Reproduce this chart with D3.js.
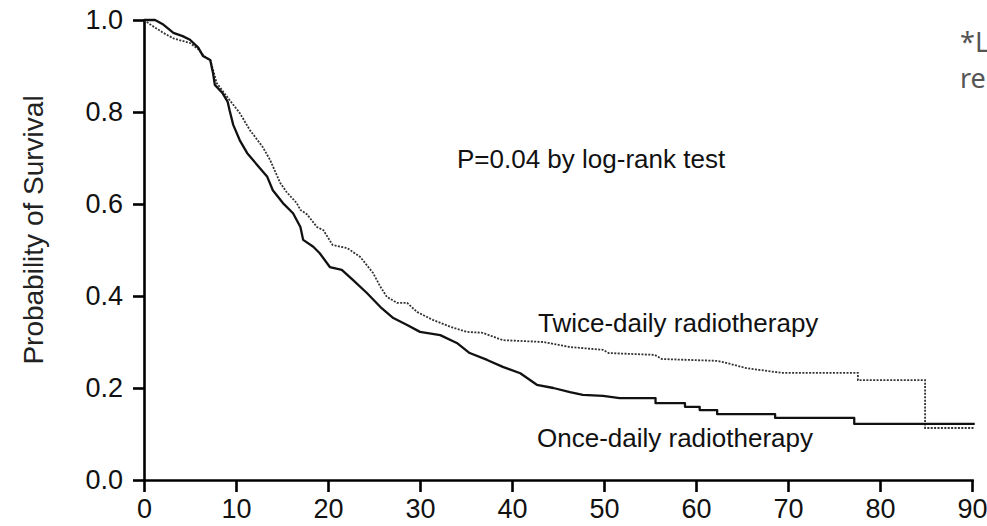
<!DOCTYPE html>
<html>
<head>
<meta charset="utf-8">
<script src="https://cdn.jsdelivr.net/npm/d3@7"></script>
<style>
  body { margin: 0; background: #fff; overflow: hidden; }
  svg { display: block; }
  .axis path, .axis line { stroke: #000; stroke-width: 2.6; }
  .axis text { font-family: "Liberation Sans", Arial, sans-serif; font-size: 27px; fill: #111; }
</style>
</head>
<body>
<div id="chart"></div>
<script>
// Kaplan-Meier survival
// months since randomisation and probability of survival
const onceDaily = [
  [0, 1.0], [1.2, 1.0], [2.1, 0.99], [3.2, 0.972], [4.2, 0.965], [5.0, 0.957],
  [5.9, 0.94], [6.4, 0.922], [7.2, 0.913], [7.5, 0.885], [7.7, 0.859], [8.5, 0.842],
  [9.1, 0.822], [9.3, 0.804], [9.7, 0.772], [10.4, 0.739], [11.2, 0.711], [12.3, 0.685],
  [13.4, 0.659], [14.0, 0.63], [15.1, 0.602], [16.2, 0.58], [17.0, 0.55], [17.3, 0.522],
  [18.4, 0.507], [19.1, 0.493], [20.2, 0.463], [21.5, 0.457], [22.7, 0.435], [24.2, 0.407],
  [25.7, 0.376], [27.1, 0.352], [28.6, 0.337], [30.0, 0.322], [32.2, 0.315], [34.0, 0.298],
  [35.4, 0.276], [37.3, 0.261], [39.0, 0.246], [40.9, 0.232], [42.7, 0.207], [44.5, 0.2],
  [46.3, 0.191], [47.7, 0.185], [49.9, 0.183], [51.7, 0.178],
  [55.6, 0.178], [55.6, 0.167], [58.8, 0.167], [58.8, 0.159], [60.4, 0.159], [60.4, 0.152],
  [62.3, 0.152], [62.3, 0.143], [68.6, 0.143], [68.6, 0.135], [77.2, 0.135], [77.2, 0.122],
  [90.3, 0.122]
];

const twiceDaily = [
  [0, 1.0], [0.7, 0.99], [2.1, 0.972], [3.2, 0.96], [5.0, 0.95], [6.0, 0.935],
  [6.5, 0.922], [7.2, 0.913], [7.6, 0.885], [7.9, 0.863], [9.3, 0.826], [10.4, 0.798],
  [11.5, 0.761], [12.9, 0.724], [13.7, 0.696], [14.8, 0.646], [15.5, 0.626], [16.6, 0.602],
  [17.0, 0.587], [17.7, 0.578], [18.8, 0.55], [19.5, 0.543], [20.5, 0.511], [22.1, 0.504],
  [23.5, 0.485], [24.9, 0.45], [25.7, 0.42], [26.4, 0.398], [27.5, 0.385], [28.6, 0.385],
  [29.7, 0.365], [31.4, 0.348], [33.3, 0.333], [35.1, 0.322], [36.8, 0.32], [39.0, 0.304],
  [43.4, 0.3], [46.3, 0.289], [49.9, 0.283], [50.5, 0.276], [55.5, 0.272], [56.3, 0.263],
  [62.3, 0.259], [63.4, 0.254], [65.5, 0.243], [69.3, 0.233],
  [77.6, 0.233], [77.6, 0.217], [84.9, 0.217], [84.9, 0.113], [90.3, 0.113]
];

const xTicks = [0, 10, 20, 30, 40, 50, 60, 70, 80, 90];
const yTicks = [0.0, 0.2, 0.4, 0.6, 0.8, 1.0];

const yTitle = "Probability of Survival";
const pNote = "P=0.04 by log-rank test";
const twiceLabel = "Twice-daily radiotherapy";
const onceLabel = "Once-daily radiotherapy";
const sideNote = ["*L", "re"];

function drawChart() {
    const W = 987, H = 526;
    const margin = {top: 20, right: 15, bottom: 46, left: 144};

    const svg = d3.select("#chart").append("svg")
        .attr("width", W)
        .attr("height", H);

    const x = d3.scaleLinear().domain([0, 90]).range([margin.left, W - margin.right]);
    const y = d3.scaleLinear().domain([0, 1]).range([H - margin.bottom, margin.top]);

    // axes
    svg.append("g")
        .attr("class", "axis")
        .attr("transform", `translate(0,${y(0)})`)
        .call(d3.axisBottom(x).tickValues(xTicks).tickSize(12).tickSizeOuter(0).tickPadding(7).tickFormat(d3.format("d")));

    svg.append("g")
        .attr("class", "axis")
        .attr("transform", `translate(${x(0)},0)`)
        .call(d3.axisLeft(y).tickValues(yTicks).tickSize(11).tickSizeOuter(0).tickPadding(10).tickFormat(d3.format(".1f")));

    svg.selectAll(".axis .domain").attr("stroke-linecap", "square");

    // y axis title
    svg.append("text")
        .attr("transform", `translate(43,${230}) rotate(-90)`)
        .attr("text-anchor", "middle")
        .style("font-family", "'Liberation Sans', Arial, sans-serif")
        .style("font-size", "28px")
        .attr("fill", "#222")
        .text(yTitle);

    const line = d3.line()
        .x(d => x(d[0]))
        .y(d => y(d[1]));

    // twice-daily, dotted
    svg.append("path")
        .datum(twiceDaily)
        .attr("d", line)
        .attr("fill", "none")
        .attr("stroke", "#333")
        .attr("stroke-width", 1.8)
        .attr("stroke-dasharray", "2,1.4");

    // once-daily, solid
    svg.append("path")
        .datum(onceDaily)
        .attr("d", line)
        .attr("fill", "none")
        .attr("stroke", "#111")
        .attr("stroke-width", 2.3)
        .attr("stroke-linejoin", "round");

    // annotations
    const note = (txt, tx, ty) => svg.append("text")
        .attr("x", tx)
        .attr("y", ty)
        .style("font-family", "'Liberation Sans', Arial, sans-serif")
        .style("font-size", "26px")
        .attr("fill", "#111")
        .text(txt);

    note(pNote, 457, 168);
    note(twiceLabel, 538, 332);
    note(onceLabel, 537, 447);

    // cut-off side note at the top right
    sideNote.forEach((s, i) => {
        svg.append("text")
            .attr("x", 960)
            .attr("y", 52 + i * 36)
            .style("font-family", "'Noto Sans', 'Open Sans', sans-serif")
            .style("font-size", "27px")
            .attr("fill", "#555")
            .text(s);
    });
}

document.addEventListener("DOMContentLoaded", drawChart);
</script>
</body>
</html>
